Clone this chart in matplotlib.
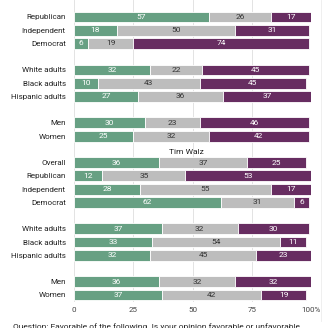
import matplotlib
matplotlib.use("Agg")
import matplotlib.pyplot as plt
import numpy as np

plt.rcParams['font.family'] = ['Roboto', 'DejaVu Sans']

# rows (group layout keeps a blank row between groups)
harris_labels = ["Republican", "Independent", "Democrat", "",
                 "White adults", "Black adults", "Hispanic adults", "",
                 "Men", "Women"]
harris_green = [57, 18, 6, None, 32, 10, 27, None, 30, 25]
harris_gray = [26, 50, 19, None, 22, 43, 36, None, 23, 32]
harris_purple = [17, 31, 74, None, 45, 45, 37, None, 46, 42]

walz_title = "Tim Walz"
walz_labels = ["Overall", "Republican", "Independent", "Democrat", "",
               "White adults", "Black adults", "Hispanic adults", "",
               "Men", "Women"]
walz_green = [36, 12, 28, 62, None, 37, 33, 32, None, 36, 37]
walz_gray = [37, 35, 55, 31, None, 32, 54, 45, None, 32, 42]
walz_purple = [25, 53, 17, 6, None, 30, 11, 23, None, 32, 19]

x_ticks = [0, 25, 50, 75, 100]
x_tick_labels = ["0", "25", "50", "75", "100%"]

caption = "Question: Favorable of the following. Is your opinion favorable or unfavorable"

GREEN = "#67a083"
GRAY = "#bdbdbd"
PURPLE = "#672d61"

fig = plt.figure(figsize=(3.28, 3.28), dpi=100)
ax = fig.add_axes([74 / 328, 1 - 302 / 328, 237 / 328, 302 / 328])

labels = harris_labels + [""] + walz_labels
green = harris_green + [None] + walz_green
gray = harris_gray + [None] + walz_gray
purple = harris_purple + [None] + walz_purple
rows = np.arange(1, len(labels) + 1)

for y, g, m, p in zip(rows, green, gray, purple):
    if g is None:
        continue
    left = 0
    for val, col, tcol in [(g, GREEN, "white"), (m, GRAY, "#333333"), (p, PURPLE, "white")]:
        ax.barh(y, val, left=left, height=0.82, color=col, edgecolor="white", linewidth=0.6)
        ax.text(left + val / 2, y, str(val), ha="center", va="center",
                fontsize=6, color=tcol)
        left += val

title_row = len(harris_labels) + 1
ax.text(47.5, title_row + 0.2, walz_title, ha="center", va="center", fontsize=6, color="#222222")

ax.set_ylim(22.53, -0.284)
ax.set_xlim(0, 100)
ax.set_yticks(rows)
ax.set_yticklabels(labels, fontsize=5.8, color="#222222")
ax.set_xticks(x_ticks)
ax.set_xticklabels(x_tick_labels, fontsize=5.8, color="#444444")
ax.tick_params(length=0, axis="y", pad=6)
ax.tick_params(length=0, axis="x", pad=3.5)
ax.grid(axis="x", color="#e3e3e3", linewidth=0.7)
ax.set_axisbelow(True)
for s in ax.spines.values():
    s.set_visible(False)

fig.add_artist(plt.Line2D([321 / 328, 321 / 328], [0.02, 1], color="#ececec", linewidth=0.6))
fig.text(13 / 328, 1 - 323 / 328, caption, ha="left", va="top", fontsize=6, color="#222222")

fig.savefig("out.png", dpi=100)
